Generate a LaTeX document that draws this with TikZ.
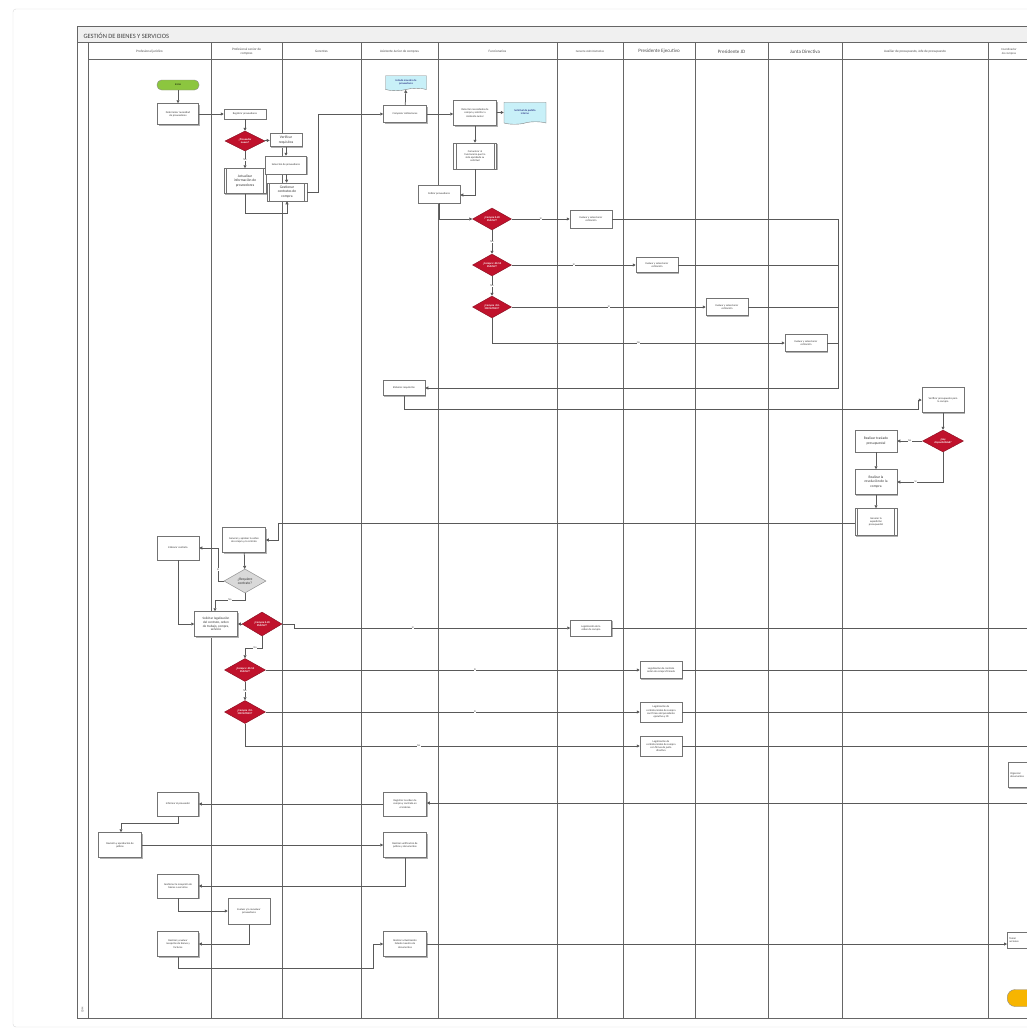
\documentclass[tikz,border=0pt]{standalone}
\usepackage{fontspec}
\setmainfont{Carlito}
\usetikzlibrary{arrows.meta,shapes.geometric,shapes.symbols,shadows}
\newcommand{\myfa}{\fontsize{2.7}{3.2}\selectfont}
\newcommand{\myfb}{\fontsize{3.6}{4.2}\selectfont}
\newcommand{\myfh}{\fontsize{3.4}{4}\selectfont}
\newcommand{\myfH}{\fontsize{5}{5.6}\selectfont}
\definecolor{decred}{HTML}{C0122C}
\definecolor{docfill}{HTML}{C8F0F8}
\definecolor{termgreen}{HTML}{8CC63F}
\definecolor{termyellow}{HTML}{F7B500}
\tikzset{
  lane/.style={draw=black!60, line width=1pt},
  hdr/.style={font=\myfh, text=black!70, align=center},
  proc/.style={draw=black!55, fill=white, line width=0.5pt, minimum width=42pt, minimum height=17pt,
    inner sep=0.5pt, align=center, font=\myfa, text=black!80,
    general shadow={shadow xshift=1pt, shadow yshift=-1pt, fill=black!30}},
  sub/.style={proc, path picture={\draw[black!55, line width=0.4pt]
      ([xshift=2.5pt]path picture bounding box.north west) -- ([xshift=2.5pt]path picture bounding box.south west)
      ([xshift=-2.5pt]path picture bounding box.north east) -- ([xshift=-2.5pt]path picture bounding box.south east);}},
  dec/.style={diamond, aspect=1.8, draw=decred!70!black, fill=decred, text=white, font=\myfa\bfseries,
    align=center, inner sep=0pt, minimum width=40pt, minimum height=22pt},
  gdec/.style={dec, draw=black!50, fill=black!15, text=black!80, font=\myfb},
  docu/.style={tape, tape bend top=none, tape bend bottom=in and out, tape bend height=2.5pt,
    draw=black!50, fill=docfill, line width=0.4pt, align=center, font=\myfa, text=blue!40!black,
    minimum width=42pt, minimum height=16pt, inner sep=0.5pt},
  term/.style={rounded corners=4.5pt, draw=black!45, line width=0.4pt, minimum width=42pt, minimum height=10pt,
    font=\myfa, inner sep=0pt},
  ln/.style={draw=black!65, line width=0.75pt},
  ar/.style={ln, -{Triangle[length=3pt,width=3pt]}},
  lab/.style={font=\myfa, fill=white, inner sep=0.3pt, text=black!70}
}
\begin{document}
\begin{tikzpicture}[x=1pt,y=-1pt]
\useasboundingbox (0,0) rectangle (1027,1033);
\fill[white] (0,0) rectangle (1027,1033);
\draw[black!15, rounded corners=3pt] (13,9) rectangle (1045,1027);
% pool
\fill[black!6] (77,27) rectangle (1045,43);
\node[anchor=west, font=\fontsize{6.5}{7}\selectfont, text=black!75] (title) at (80,35.5) {GESTIÓN DE BIENES Y SERVICIOS};
\draw[lane] (77,27) rectangle (1045,1018);
\draw[lane] (77,43) -- (1045,43);
\draw[lane] (88,43) -- (88,1018);
\draw[lane] (88,60) -- (1045,60);
\foreach \xx in {211,282,361,438,557,623,695,768,842,988}{\draw[lane] (\xx,43) -- (\xx,1018);}
\node[font=\myfa, rotate=90, text=black!70] (strip) at (82.5,1010) {CDM};
% headers
\node[hdr] (h1) at (149.5,51.5) {Profesional jurídico};
\node[hdr] (h2) at (246.5,51.5) {Profesional senior de\\compras};
\node[hdr] (h3) at (321.5,51.5) {Gerentes};
\node[hdr] (h4) at (399.5,51.5) {Asistente Junior de compras};
\node[hdr] (h5) at (497.5,51.5) {Funcionarios};
\node[hdr, font=\fontsize{3}{3.5}\selectfont] (h6) at (590,51.5) {Gerente Administrativo};
\node[hdr, font=\myfH] (h7) at (659,51.5) {Presidente Ejecutivo};
\node[hdr, font=\myfH] (h8) at (731.5,51.5) {Presidente JD};
\node[hdr, font=\myfH] (h9) at (805,51.5) {Junta Directiva};
\node[hdr] (h10) at (915,51.5) {Auxiliar de presupuesto, Jefe de presupuesto};
\node[hdr, font=\fontsize{3}{3.5}\selectfont] (h11) at (1009,51.5) {Coordinador\\de compras};

% ---- top part
\node[term, fill=termgreen] (inicio) at (178,85) {Inicio};
\node[proc, minimum width=41pt, minimum height=21pt] (det) at (178,114) {Determinar necesidad\\de proveedores};
\node[proc, minimum height=10pt] (reg) at (245,114) {Registrar proveedores};
\node[dec, minimum height=20pt] (prov) at (245,141) {¿Proveedor\\nuevo?};
\node[proc, minimum width=32pt, minimum height=13pt, font=\myfb] (ver) at (286,140) {Verificar\\requisitos};
\node[sub, minimum height=25pt, font=\myfb] (act) at (245,181) {Actualizar\\información de\\proveedores};
\node[proc, minimum width=41pt, minimum height=18pt] (sel) at (286,165) {Selección de proveedores};
\node[sub, minimum width=40pt, minimum height=18pt, font=\myfb] (gest) at (287,192) {Gestionar\\contratos de\\compra};

\draw[ar] (inicio) -- (det);
\draw[ar] (det) -- (reg);
\draw[ar] (reg) -- (prov);
\draw[ar] (prov) -- (ver);
\draw[ar] (prov) -- node[lab]{No} (act);
\draw[ar] (ver) -- (sel);
\draw[ar] (sel) -- (gest);
\coordinate (a1) at (245,213);
\coordinate (a2) at (287,213);
\draw[ar] (act.south) -- (a1) -- (a2) -- (gest.south);

\node[proc, minimum width=43pt] (comp) at (405,114) {Comparar cotizaciones};
\node[docu, minimum width=41pt, minimum height=15pt] (lista) at (406,82) {Listado maestro de\\proveedores};
\node[proc, minimum width=43pt, minimum height=25pt] (detn) at (475,113) {Detectar necesidades de\\compra y solicitar a\\Asistente Junior};
\node[docu, minimum height=22pt] (sol) at (525,112) {Solicitud de pedido\\interno};
\node[sub, minimum width=43pt, minimum height=26pt] (comu) at (475,156) {Comunicar al\\funcionario que ha\\sido aprobada su\\solicitud};
\node[proc, minimum height=18pt] (coti) at (439,194) {Cotizar proveedores};

\coordinate (b1) at (318,192);
\coordinate (b2) at (318,114);
\draw[ar] (gest.east) -- (b1) -- (b2) -- (comp.west);
\draw[ar] (comp) -- (lista);
\draw[ar] (comp.east) -- (detn.west |- comp.east);
\draw[ar] (detn) -- (sol);
\draw[ar] (detn) -- (comu);
\coordinate (b3) at (475,195);
\draw[ar] (comu.south) -- (b3) -- (coti.east |- b3);

\node[dec, minimum width=39pt] (c1) at (492,219) {¿Compra 0-20\\SMMLV?};
\node[dec, minimum width=39pt] (c2) at (492,265) {¿Compra >20-50\\SMMLV?};
\node[dec, minimum width=39pt] (c3) at (492,307) {¿Compra >50-\\300 SMMLV?};
\node[proc, minimum height=18pt] (ev1) at (591,219) {Evaluar y seleccionar\\cotización};
\node[proc, minimum height=15pt] (ev2) at (657,265) {Evaluar y seleccionar\\cotización};
\node[proc, minimum height=17pt] (ev3) at (727,307) {Evaluar y seleccionar\\cotización};
\node[proc, minimum height=17pt] (ev4) at (806,343) {Evaluar y seleccionar\\cotización};
\node[proc, minimum height=15pt] (elab) at (404,388) {Elaborar requisición};

\coordinate (c0) at (439,219);
\draw[ar] (coti.south) -- (c0) -- (c1.west);
\draw[ar] (c1) -- node[lab, pos=0.5]{Sí} (ev1);
\draw[ar] (c1) -- node[lab]{No} (c2);
\draw[ar] (c2) -- node[lab]{Sí} (ev2);
\draw[ar] (c2) -- node[lab]{No} (c3);
\draw[ar] (c3) -- node[lab]{Sí} (ev3);
\draw[ar] (c3.south) |- node[lab, pos=0.75]{No} (ev4.west);
\coordinate (r1) at (838,219);
\coordinate (r2) at (838,388);
\draw[ar] (ev1.east) -- (r1) -- (r2) -- (elab.east);
\draw[ln] (ev2.east) -- (ev2.east -| r1);
\draw[ln] (ev3.east) -- (ev3.east -| r1);
\draw[ln] (ev4.east) -- (ev4.east -| r1);

% ---- budget
\node[proc, minimum height=25pt] (vpres) at (943,400) {Verificar presupuesto para\\la compra};
\node[dec, minimum width=41pt] (hay) at (943,441) {¿Hay\\disponibilidad?};
\node[proc, minimum height=22pt, font=\myfb] (tras) at (876,441) {Realizar traslado\\presupuestal};
\node[proc, minimum height=25pt, font=\myfb] (resol) at (876,482) {Realizar la\\resolución de la\\compra};
\node[sub, minimum height=27pt] (gen) at (876,522) {Generar la\\expedición\\presupuestal};

\coordinate (e1) at (404,409);
\coordinate (e2) at (918,409);
\draw[ar] (elab.south) -- (e1) -- (e2) |- (vpres.west);
\draw[ar] (vpres) -- (hay);
\draw[ar] (hay) -- node[lab]{No} (tras);
\draw[ar] (tras) -- (resol);
\draw[ar] (hay.south) |- node[lab, pos=0.8]{Sí} (resol.east);
\draw[ar] (resol) -- (gen);

% ---- contracts
\node[proc, minimum width=43pt, minimum height=25pt] (oc) at (244,540) {Generar y aprobar la orden\\de compra y/o contrato};
\node[gdec, minimum width=42pt, minimum height=24pt] (req) at (245,581) {¿Requiere\\contrato?};
\node[proc, minimum height=24pt] (elc) at (178,548) {Elaborar contrato};
\node[proc, minimum width=43pt, minimum height=25pt, font=\fontsize{3.3}{3.8}\selectfont] (leg) at (216,624) {Solicitar legalización\\del contrato, orden\\de trabajo, compra,\\servicio};
\node[dec, minimum height=24pt] (c4) at (262,624) {¿Compra 0-20\\SMMLV?};
\node[dec, minimum width=41pt, minimum height=23pt] (c5) at (245,670) {¿Compra >20-50\\SMMLV?};
\node[dec, minimum width=41pt, minimum height=23pt] (c6) at (245,712) {¿Compra >50-\\300 SMMLV?};
\node[proc, minimum width=41pt, minimum height=16pt] (lg1) at (591,628) {Legalización de la\\orden de compra};
\node[proc, minimum height=17pt] (lg2) at (661,670) {Legalización de contrato\\orden de compra firmada};
\node[proc, minimum height=20pt] (lg3) at (661,712) {Legalización de\\contrato/orden de compra\\con firmas del presidente\\ejecutivo y JD};
\node[proc, minimum height=20pt] (lg4) at (661,746) {Legalización de\\contrato/orden de compra\\con firmas de junta\\directiva};

\coordinate (g1) at (278,523);
\coordinate (g2) at (278,540);
\draw[ar] (gen.west |- g1) -- (g1) -- (g2) -- (oc.east);
\draw[ar] (oc) -- (req);
\coordinate (q1) at (218,581);
\coordinate (q2) at (218,548);
\draw[ar] (req.west) -- (q1) -- node[lab, pos=0.35]{Sí} (q2) -- (elc.east);
\coordinate (q3) at (245,600);
\coordinate (q4) at (215,600);
\draw[ar] (req.south) -- (q3) -- node[lab]{No} (q4) -- (q4 |- leg.north);
\coordinate (q5) at (178,624);
\draw[ar] (elc.south) -- (q5) -- (leg.west);
\draw[ar] (c4.west) -- (leg.east);
\coordinate (s1) at (294,624);
\coordinate (s2) at (294,628);
\draw[ar] (c4.east) -- (s1) -- (s2) -- node[lab, pos=0.43]{Sí} (lg1.west);
\coordinate (s3) at (262,648);
\coordinate (s4) at (245,648);
\draw[ar] (c4.south) -- (s3) -- node[lab, pos=0.4]{No} (s4) -- (c5.north);
\draw[ar] (c5) -- node[lab, pos=0.56]{Sí} (lg2);
\draw[ar] (c5) -- node[lab]{No} (c6);
\draw[ar] (c6) -- node[lab, pos=0.56]{Sí} (lg3);
\draw[ar] (c6.south) |- node[lab, pos=0.72]{No} (lg4.west);

\coordinate (x1) at (1045,628);
\coordinate (x2) at (1045,670);
\coordinate (x3) at (1045,712);
\coordinate (x4) at (1045,746);
\draw[ln] (lg1.east) -- (x1);
\draw[ln] (lg2.east) -- (x2);
\draw[ln] (lg3.east) -- (x3);
\draw[ln] (lg4.east) -- (x4);

\node[proc, anchor=west, minimum width=40pt, minimum height=25pt, text width=36pt, align=left, inner xsep=1.5pt] (org) at (1008,775) {Organizar\\documentos};

% ---- bottom part
\node[proc, minimum width=43pt, minimum height=24pt] (regoc) at (405,804) {Registrar la orden de\\compra y contrato en\\el sistema};
\node[proc, minimum width=41pt, minimum height=24pt] (inf) at (178,804) {Informar al proveedor};
\node[proc, minimum width=43pt, minimum height=25pt] (pol) at (120,845) {Revisión y aprobación de\\pólizas};
\node[proc, minimum width=43pt, minimum height=25pt] (verp) at (405,845) {Realizar verificación de\\pólizas y documentos};
\node[proc, minimum width=41pt, minimum height=24pt] (rec) at (178,886) {Gestionar la recepción de\\bienes o servicios};
\node[proc, minimum height=26pt] (evp) at (249,911) {Evaluar y/o reevaluar\\proveedores};
\node[proc, minimum width=41pt, minimum height=25pt] (fac) at (178,944) {Realizar y evaluar\\recepción de bienes y\\facturas};
\node[proc, minimum width=43pt, minimum height=25pt] (act2) at (405,944) {Realizar actualización\\listado maestro de\\documentos};
\node[proc, anchor=west, minimum width=40pt, minimum height=16pt, text width=36pt, align=left, inner xsep=1.5pt] (tom) at (1007,940) {Tomar\\acciones};
\node[term, anchor=west, fill=termyellow, minimum width=46pt, minimum height=17pt, rounded corners=8pt] (fin) at (1007,998) {};

\coordinate (y0) at (1045,803);
\draw[ar] (y0) -- (regoc.east |- y0);
\draw[ar] (regoc) -- (inf);
\coordinate (y1) at (178,823);
\coordinate (y2) at (121,823);
\draw[ar] (inf.south) -- (y1) -- (y2) -- (y2 |- pol.north);
\draw[ar] (pol) -- (verp);
\coordinate (y3) at (405,886);
\draw[ar] (verp.south) -- (y3) -- (rec.east);
\coordinate (y4) at (178,911);
\draw[ar] (rec.south) -- (y4) -- (evp.west);
\coordinate (y5) at (249,944);
\draw[ar] (evp.south) -- (y5) -- (fac.east);
\coordinate (y6) at (178,968);
\coordinate (y7) at (373,968);
\coordinate (y8) at (373,944);
\draw[ar] (fac.south) -- (y6) -- (y7) -- (y8) -- (act2.west);
\draw[ar] (act2.east) -- (tom.west |- act2.east);
\end{tikzpicture}
\end{document}
